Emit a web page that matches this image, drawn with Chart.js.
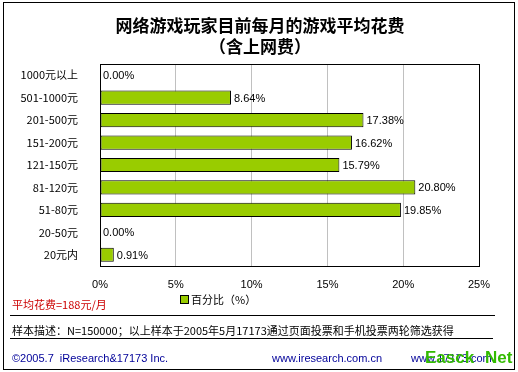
<!DOCTYPE html>
<html>
<head>
<meta charset="utf-8">
<script src="https://cdn.jsdelivr.net/npm/chart.js@4/dist/chart.umd.min.js"></script>
<style>
  html, body { margin: 0; padding: 0; background: #fff; }
  canvas { display: block; }
</style>
</head>
<body>
<canvas id="chart" width="518" height="372"></canvas>
<script>
const categories = ["1000元以上", "501-1000元", "201-500元", "151-200元", "121-150元", "81-120元", "51-80元", "20-50元", "20元内"];
const shares = [0, 8.64, 17.38, 16.62, 15.79, 20.80, 19.85, 0, 0.91];
const seriesLabel = "百分比（%）";
const titleLines = ["网络游戏玩家目前每月的游戏平均花费", "（含上网费）"];
const averageNote = "平均花费=188元/月";
const sampleNote = "样本描述：N=150000；以上样本于2005年5月17173通过页面投票和手机投票两轮筛选获得";

const FONT = '"Liberation Sans", "Noto Sans CJK SC", sans-serif';
const CJK = '"Noto Sans CJK SC", "Liberation Sans", sans-serif';
const barColor = "#99cc00";

const decorations = {
  id: "decorations",
  beforeDraw(chart) {
    const ctx = chart.ctx;
    ctx.save();
    ctx.fillStyle = "#fff";
    ctx.fillRect(0, 0, chart.width, chart.height);
    ctx.restore();
  },
  afterDatasetsDraw(chart) {
    const ctx = chart.ctx;
    const area = chart.chartArea;
    ctx.save();

    // plot frame
    ctx.strokeStyle = "#000";
    ctx.lineWidth = 1;
    ctx.strokeRect(Math.round(area.left) + 0.5, Math.round(area.top) + 0.5,
      Math.round(area.right - area.left), Math.round(area.bottom - area.top));

    // value labels
    ctx.fillStyle = "#000";
    ctx.font = "11px " + FONT;
    ctx.textAlign = "left";
    ctx.textBaseline = "middle";
    chart.getDatasetMeta(0).data.forEach((bar, i) => {
      ctx.fillText(shares[i].toFixed(2) + "%", bar.x + 3, bar.y + 1);
    });

    // titles
    ctx.textAlign = "center";
    ctx.font = "bold 17px " + CJK;
    ctx.fillText(titleLines[0], 260, 26);
    ctx.fillText(titleLines[1], 260, 47);

    // legend
    ctx.fillStyle = barColor;
    ctx.fillRect(181, 296, 7, 7);
    ctx.strokeStyle = "#000";
    ctx.strokeRect(180.5, 295.5, 8, 8);
    ctx.fillStyle = "#000";
    ctx.textAlign = "left";
    ctx.font = "11px " + CJK;
    ctx.fillText(seriesLabel, 191, 300);

    // average note
    ctx.fillStyle = "#cc0000";
    ctx.fillText(averageNote, 12, 305);

    // rules
    ctx.strokeStyle = "#000";
    ctx.beginPath();
    ctx.moveTo(10, 315.5);
    ctx.lineTo(495, 315.5);
    ctx.moveTo(10, 338.5);
    ctx.lineTo(493, 338.5);
    ctx.stroke();

    ctx.fillStyle = "#000";
    ctx.font = "11px " + CJK;
    ctx.fillText(sampleNote, 12, 331);

    // footer
    ctx.fillStyle = "#000099";
    ctx.font = "11px " + FONT;
    ctx.fillText("©2005.7  iResearch&17173 Inc.", 12, 359);
    ctx.fillText("www.iresearch.com.cn", 272, 359);
    ctx.fillText("www.17173.com", 411, 359);
    ctx.fillStyle = "#33bb00";
    ctx.font = "bold 17px " + FONT;
    ctx.fillText("Easck", 425, 358);
    ctx.fillText("Net", 485, 358);

    // outer border
    ctx.strokeStyle = "#000";
    ctx.strokeRect(3.5, 2.5, 511, 367);
    ctx.restore();
  }
};

new Chart(document.getElementById("chart"), {
  type: "bar",
  data: {
    labels: categories,
    datasets: [{
      label: seriesLabel,
      data: shares,
      backgroundColor: barColor,
      borderColor: "#000",
      borderWidth: 1,
      borderSkipped: false,
      barPercentage: 0.63,
      categoryPercentage: 1
    }]
  },
  options: {
    indexAxis: "y",
    responsive: false,
    animation: false,
    layout: { padding: { top: 64, left: 0, right: 39, bottom: 76 } },
    plugins: {
      legend: { display: false },
      title: { display: false },
      tooltip: { enabled: false }
    },
    scales: {
      x: {
        min: 0,
        max: 25,
        afterFit(scale) { scale.height = 30; },
        ticks: {
          stepSize: 5,
          padding: 12,
          color: "#000",
          font: { family: FONT, size: 11 },
          callback: (v) => v + "%"
        },
        grid: { color: "#c0c0c0", drawTicks: false },
        border: { display: false }
      },
      y: {
        afterFit(scale) { scale.width = 100; },
        ticks: {
          padding: 14,
          color: "#000",
          font: { family: CJK, size: 11 }
        },
        grid: { display: false },
        border: { display: false }
      }
    }
  },
  plugins: [decorations]
});
</script>
</body>
</html>
